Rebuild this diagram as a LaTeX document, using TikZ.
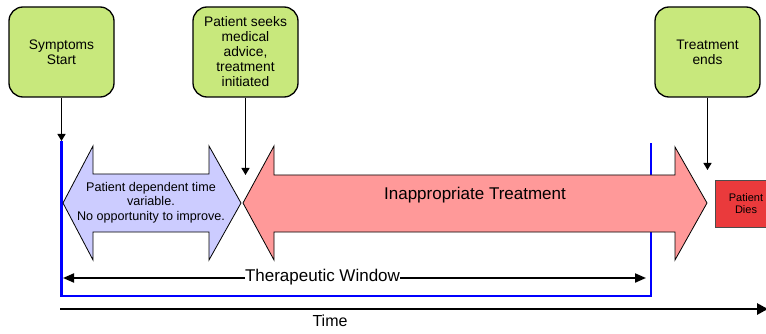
\documentclass[tikz,border=0pt]{standalone}
\usepackage{fontspec}
\setmainfont{Liberation Sans}
\usetikzlibrary{arrows.meta}
\definecolor{eventgreen}{HTML}{C8E87C}
\definecolor{waitfill}{HTML}{CCCCFF}
\definecolor{treatfill}{HTML}{FF9999}
\definecolor{deathfill}{HTML}{EA3A3C}
\definecolor{windowblue}{HTML}{0000FF}
\tikzset{
  event/.style={draw=black, line width=1.3pt, fill=eventgreen, rounded corners=14pt,
    minimum width=105pt, minimum height=90pt, align=center, inner sep=0pt,
    font=\fontsize{13.8}{15}\selectfont},
  conn/.style={line width=1.3pt, -{Triangle[length=7pt,width=8pt]}},
  phase/.style={draw=black, line width=0.8pt},
  windowarrow/.style={line width=2pt, -{Triangle[length=11pt,width=9pt]}},
  timearrow/.style={line width=2.8pt, -{Triangle[length=11pt,width=11pt]}},
}
\begin{document}
\begin{tikzpicture}[x=1pt,y=-1pt]
\clip (0,0) rectangle (766,334);

% events
\node[event] (symptoms) at (61.5,52) {Symptoms\\Start};
\node[event] (seeks) at (245.5,52) {Patient seeks\\medical\\advice,\\treatment\\initiated};
\node[event] (ends) at (707.5,52) {Treatment\\ends};

\coordinate (symTip) at (61.5,141);
\coordinate (seeksTip) at (245.5,175);
\coordinate (endsTip) at (707.5,170);
\draw[conn] (symptoms.south) -- (symTip);
\draw[conn] (seeks.south) -- (seeksTip);
\draw[conn] (ends.south) -- (endsTip);

% therapeutic window bracket
\coordinate (wTopL) at (61.5,141);
\coordinate (wBotL) at (61.5,296);
\coordinate (wBotR) at (651,296);
\coordinate (wTopR) at (651,143);
\draw[windowblue, line width=2.3pt] (wTopL) -- (wBotL) -- (wBotR) -- (wTopR);

% waiting phase (double arrow)
\draw[phase, fill=waitfill] (63,203) -- (93,146) -- (93,174) -- (209,174) -- (209,146)
  -- (241,203) -- (209,260) -- (209,232) -- (93,232) -- (93,260) -- cycle;
\node[align=center, font=\fontsize{12.6}{14.5}\selectfont, inner sep=0pt] (waitlabel)
  at (151,202.5) {Patient dependent time\\variable.\\No opportunity to improve.};

% treatment phase (double arrow)
\draw[phase, fill=treatfill] (243,203) -- (274,146) -- (274,175) -- (675,175) -- (675,147)
  -- (707,203) -- (675,260) -- (675,232) -- (274,232) -- (274,260) -- cycle;
\node[anchor=base, font=\fontsize{17}{20}\selectfont, inner sep=0pt] (treatlabel)
  at (475,200) {Inappropriate Treatment};

% outcome
\node[draw=black!70, line width=0.8pt, fill=deathfill, minimum width=62pt, minimum height=47pt,
  align=center, inner sep=0pt, font=\fontsize{11}{12.7}\selectfont] (dies) at (746,203.5) {Patient\\Dies};

% therapeutic window label
\node[anchor=base, font=\fontsize{17}{20}\selectfont, inner sep=0pt] (tw) at (322.5,281) {Therapeutic Window};
\coordinate (twL) at (63,278);
\coordinate (twR) at (646,278);
\draw[windowarrow] (tw.west |- twL) -- (twL);
\draw[windowarrow] (tw.east |- twR) -- (twR);

% time axis
\coordinate (t0) at (60,309);
\coordinate (t1) at (768,309);
\draw[timearrow] (t0) -- (t1);
\node[anchor=base, font=\fontsize{16}{19}\selectfont, inner sep=0pt] (time) at (330,326) {Time};
\end{tikzpicture}
\end{document}
